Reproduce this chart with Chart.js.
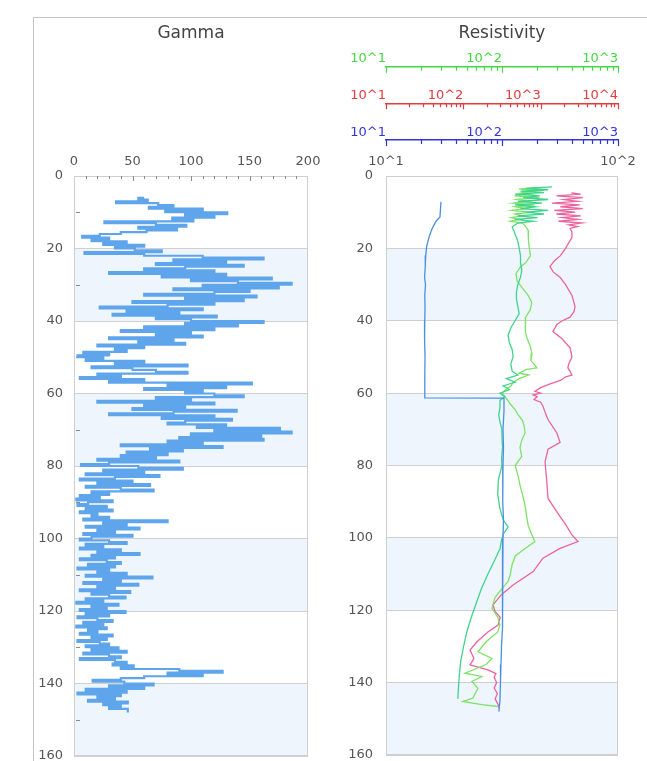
<!DOCTYPE html>
<html>
<head>
<meta charset="utf-8">
<title>Gamma / Resistivity</title>
<script src="https://cdn.jsdelivr.net/npm/chart.js@4.4.1/dist/chart.umd.min.js"></script>
<style>
  html, body { margin: 0; padding: 0; background: #fff; overflow: hidden; }
  body { width: 647px; height: 761px; position: relative; }
  #frame { position: absolute; left: 33px; top: 17px; width: 700px; height: 800px;
           border-left: 1px solid #c4c4c4; border-top: 1px solid #c4c4c4; }
  #gammaBox { position: absolute; left: 0; top: 17px; width: 330px; height: 744px; }
  #resBox { position: absolute; left: 330px; top: 17px; width: 317px; height: 744px; }
</style>
</head>
<body>
<div id="frame"></div>
<div id="gammaBox"><canvas id="gamma"></canvas></div>
<div id="resBox"><canvas id="res"></canvas></div>
<script>
// gamma log, sampled every half foot from 6 ft down to 148 ft
const gammaTop = 6;
const gammaStep = 0.5;
const gammaValues = [
  60, 55, 63, 36, 72, 85, 64, 110, 78, 131,
  95, 120, 84, 102, 26, 70, 96, 55, 88, 62,
  40, 22, 7, 30, 15, 45, 25, 60, 35, 52,
  75, 9, 60, 110, 162, 85, 130, 70, 145, 95,
  60, 120, 30, 130, 75, 169, 100, 140, 186, 110,
  175, 85, 150, 120, 60, 156, 95, 145, 50, 120,
  80, 22, 110, 45, 90, 33, 122, 70, 100, 162,
  95, 140, 60, 120, 40, 100, 70, 110, 30, 85,
  55, 95, 20, 60, 35, 45, 8, 30, 3, 25,
  10, 60, 35, 97, 15, 50, 70, 97, 20, 40,
  5, 60, 30, 152, 80, 130, 60, 110, 95, 120,
  145, 70, 100, 20, 120, 60, 95, 50, 139, 85,
  30, 120, 75, 135, 95, 80, 130, 105, 176, 120,
  186, 100, 160, 90, 162, 80, 110, 40, 127, 65,
  93, 45, 80, 40, 70, 20, 90, 30, 6, 55,
  93, 25, 60, 10, 73, 35, 5, 50, 20, 65,
  10, 40, 68, 15, 30, 5, 22, 2, 33, 12,
  3, 28, 10, 33, 5, 20, 15, 30, 8, 80,
  25, 45, 10, 56, 20, 35, 8, 50, 15, 5,
  30, 45, 10, 25, 5, 40, 20, 56, 15, 35,
  5, 28, 40, 12, 35, 3, 30, 20, 45, 10,
  67, 25, 40, 8, 55, 20, 35, 5, 48, 15,
  30, 44, 10, 25, 2, 38, 15, 28, 5, 44,
  10, 30, 3, 20, 33, 8, 25, 2, 28, 12,
  20, 5, 33, 15, 28, 3, 22, 30, 10, 38,
  15, 45, 8, 30, 40, 5, 35, 45, 33, 51,
  40, 90, 127, 80, 110, 60, 40, 16, 43, 68,
  30, 60, 10, 45, 3, 40, 20, 35, 12, 46,
  25, 40, 30, 46, 46
];

// resistivity curves (depth in ft, value in ohm.m)
const tealDepth = [3, 3.4, 3.8, 4.2, 4.6, 5, 5.5, 6, 6.5, 7, 7.5, 8, 8.5, 9, 9.5, 10,
  10.5, 11, 11.5, 12, 12.5, 13, 14, 15, 16, 17, 18, 20, 22, 24, 26, 28, 30, 32, 34, 36, 38, 40,
  42, 44, 46, 48, 50, 52, 54, 55, 56, 57, 58, 59, 60, 61, 62, 64, 66, 68, 70, 72,
  75, 78, 80, 84, 88, 92, 95, 97, 99, 101, 103, 106, 110, 114, 118, 122, 126, 130, 134, 138, 142, 144.5];
const tealRes = [52, 40, 50, 38, 48, 36, 46, 39, 50, 37, 47, 36, 44, 38, 50, 40,
  48, 37, 45, 36, 43, 37, 35, 35.5, 36, 36.5, 37, 37.5, 38, 38, 38.5, 38, 37, 36.5, 36.5, 37, 37.5, 36,
  34.5, 33.6, 34, 35, 35.3, 34.5, 35, 37, 33, 36, 32, 34, 31, 32.5, 31, 31, 30.6, 31, 31.6, 31.6,
  31.8, 31.5, 31.6, 30.5, 30.3, 31, 32, 33.6, 32, 31.4, 31, 29.5, 27.5, 25.8, 24.5, 23.3, 22.3, 21.6, 21, 20.7, 20.5, 20.4];

const greenDepth = [3.2, 3.6, 4, 4.5, 5, 5.5, 6, 6.5, 7, 7.5, 8, 8.5, 9, 9.5, 10, 10.5, 11, 11.5, 12, 12.5, 13,
  14, 15, 16, 18, 20, 22, 24, 25, 27, 29, 31, 33, 35, 37, 39, 41, 43, 45, 47, 49,
  51, 53, 53.5, 54.5, 55, 56, 57, 58, 59, 60, 61, 62, 63, 64.5, 66, 67.5, 69, 71, 73, 75,
  77.5, 80, 83, 85.5, 88, 91, 94, 96.5, 99, 101, 103.5, 105, 107.5, 110, 112, 114, 116.5, 119.5, 122, 124,
  126, 128.7, 131.5, 133.3, 135, 137.4, 138.3, 139.7, 141.6, 144.3, 145.2, 146.1, 146.6];
const greenRes = [200, 140, 230, 150, 180, 128, 210, 135, 170, 125, 190, 130, 160, 122, 175, 130, 150, 120, 140, 118, 150,
  160, 168, 168, 170, 172, 176, 160, 145, 132, 135, 150, 168, 181, 175, 160, 158, 160, 165, 175, 181,
  178, 200, 160, 140, 170, 140, 125, 120, 108, 100, 106, 112, 118, 129, 138, 150, 155, 158, 148, 143,
  148, 130, 138, 143, 150, 158, 163, 168, 180, 192, 150, 130, 122, 118, 113, 100, 87, 82, 92, 96,
  92, 73, 62, 82, 73, 48, 67, 55, 62, 56, 46, 67, 92];

const pinkDepth = [4.7, 5, 5.5, 6, 6.5, 7, 7.5, 8, 8.5, 9, 9.5, 10, 10.5, 11, 11.5, 12, 12.5, 13, 13.5, 14, 14.5,
  15.5, 17, 18.5, 20, 22, 23.5, 25, 26.5, 28, 30, 33, 36, 37.5, 39, 40, 41, 43, 45, 47.5, 50,
  52, 53, 54, 55, 55.5, 56.5, 57.5, 58.5, 59.5, 60, 60.5, 61, 61.8, 62.5, 63.6, 65.5, 67.3, 69, 71, 73.6,
  75.5, 79, 84.5, 89.1, 92.8, 96.5, 99.2, 101, 102.9, 105.6, 109.3, 113, 115.7, 118.5, 120.3, 122, 124.1, 126, 128.7, 131,
  133.3, 134.2, 135.1, 136.5, 137.5, 138.5, 140, 141.5, 143, 144.5, 146, 147];
const pinkRes = [2500, 3300, 1600, 3500, 2000, 3000, 1400, 3200, 1800, 3500, 1500, 2800, 1600, 3300, 1900, 3000, 1700, 3400, 2300, 3000, 2400,
  2540, 2540, 2300, 2100, 1800, 1500, 1320, 1450, 1780, 2100, 2540, 2780, 2700, 2400, 1900, 1620, 1440, 1890, 2400, 2540,
  2300, 2250, 2400, 2540, 2100, 1800, 1300, 1000, 845, 1000, 800, 900, 820, 1000, 1070, 1150, 1245, 1400, 1620, 1780,
  1245, 1140, 1200, 1245, 1620, 2130, 2540, 3040, 1780, 1070, 800, 440, 310, 242, 257, 300, 281, 208, 150, 122,
  137, 130, 122, 208, 264, 250, 270, 250, 275, 258, 281, 290];

const blueDepth = [7.1, 9, 11.3, 12.5, 13.5, 14.5, 16.7, 19.5, 22, 25, 28, 30, 33, 36, 40, 45, 50, 55, 61.3, 61.4,
  65, 70, 75, 80, 85, 90, 95, 100, 105, 110, 115, 120, 125, 130, 135, 140, 145, 148];
const blueRes = [29.8, 29.5, 29.2, 27, 26, 25, 23.6, 22.4, 22, 21.8, 21.5, 21.9, 21.6, 21.7, 21.6, 21.5, 21.7, 21.6, 21.6, 104,
  104, 102, 103, 102, 101, 102, 103, 102, 101, 101, 101, 102, 100, 99, 98, 97, 96, 94];

// axis ticks
const mainTicks = [10, 100];
const greenTicks = [10, 100, 1000];
const redTicks = [10, 100, 1000, 10000];
const blueTicks = [10, 100, 1000];
const depthMinorTicks = [10, 30, 50, 70, 90, 110, 130, 150];
const gammaMinorTicks = [10, 20, 30, 40, 50, 60, 70, 80, 90, 100, 110, 120, 130, 140, 150, 160, 170, 180, 190];
const bandRanges = [[20, 40], [60, 80], [100, 120], [140, 160]];

const bandColor = "#eef5fd";
const gridColor = "#cfcfcf";
const axisGreen = "#44d844";
const axisRed = "#e53a3e";
const axisBlue = "#3434dc";

Chart.defaults.font.family = '"DejaVu Sans", sans-serif';
Chart.defaults.font.size = 13;
Chart.defaults.color = "#555";
Chart.defaults.animation = false;

const toPoints = (xs, ys) => xs.map((x, i) => ({ x: ys[i], y: x }));
const gammaPoints = gammaValues.map((g, i) => ({ x: g, y: gammaTop + i * gammaStep }));

const wellDecor = {
  id: "wellDecor",
  beforeDraw(chart) {
    const { ctx, chartArea: a } = chart;
    const y = chart.scales.y;
    ctx.save();
    ctx.fillStyle = bandColor;
    bandRanges.forEach(([t, b]) => {
      const y1 = y.getPixelForValue(t);
      const y2 = y.getPixelForValue(b);
      ctx.fillRect(a.left, y1, a.right - a.left, y2 - y1);
    });
    ctx.restore();
  },
  beforeDatasetsDraw(chart, args, opts) {
    const { ctx, chartArea: a } = chart;
    ctx.save();
    ctx.strokeStyle = gridColor;
    ctx.lineWidth = 1;
    ctx.strokeRect(Math.round(a.left) + 0.5, Math.round(a.top) + 0.5,
      Math.round(a.right - a.left) - 1, Math.round(a.bottom - a.top) - 1);
    ctx.strokeStyle = "#8a8a8a";
    ctx.beginPath();
    if (opts.depthMinor) {
      const y = chart.scales.y;
      opts.depthMinor.forEach(d => {
        const p = Math.round(y.getPixelForValue(d)) + 0.5;
        ctx.moveTo(a.left + 2, p);
        ctx.lineTo(a.left + 6, p);
      });
    }
    if (opts.topMinor) {
      const x = chart.scales.x;
      opts.topMinor.forEach(v => {
        const p = Math.round(x.getPixelForValue(v)) + 0.5;
        ctx.moveTo(p, a.top);
        ctx.lineTo(p, a.top + (v % 50 === 0 ? 5 : 3));
      });
    }
    ctx.stroke();
    ctx.restore();
  },
  afterDraw(chart, args, opts) {
    const { ctx, chartArea: a } = chart;
    // track title, centred over the plot area
    ctx.save();
    ctx.fillStyle = "#444";
    ctx.font = '17px "DejaVu Sans", sans-serif';
    ctx.textAlign = "center";
    ctx.textBaseline = "middle";
    ctx.fillText(opts.title, (a.left + a.right) / 2, 16.5);
    ctx.restore();

    (opts.logAxes || []).forEach(({ id, color }) => {
      const s = chart.scales[id];
      ctx.save();
      ctx.strokeStyle = color;
      ctx.lineWidth = 1.2;
      ctx.beginPath();
      for (let e = Math.round(Math.log10(s.min)); Math.pow(10, e) <= s.max * 1.0001; e++) {
        for (let m = 1; m <= 9; m++) {
          const v = m * Math.pow(10, e);
          if (v > s.max * 1.0001) break;
          const p = Math.round(s.getPixelForValue(v)) + 0.5;
          ctx.moveTo(p, s.bottom);
          ctx.lineTo(p, s.bottom + (m === 1 ? 6 : 4));
        }
      }
      ctx.stroke();
      ctx.restore();
    });
  }
};

function depthScale(width, pad) {
  return {
    type: "linear",
    reverse: true,
    min: 0,
    max: 160,
    ticks: { stepSize: 20, padding: pad },
    grid: { color: gridColor, drawTicks: false },
    border: { display: false },
    afterFit: s => { s.width = width; s.paddingTop = 0; s.paddingBottom = 0; }
  };
}

function topScale(type, min, max, height, ticks, color, pad, align, weight) {
  return {
    type: type,
    position: "top",
    min: min,
    max: max,
    weight: weight,
    afterBuildTicks: ticks ? s => { s.ticks = ticks.map(v => ({ value: v })); } : undefined,
    ticks: {
      color: color,
      padding: pad,
      align: align,
      autoSkip: false,
      maxRotation: 0,
      minRotation: 0,
      stepSize: type === "linear" ? 50 : undefined,
      callback: type === "linear" ? undefined : v => "10^" + Math.round(Math.log10(v))
    },
    grid: { display: false, drawTicks: false },
    border: color === "#555" ? { display: false } : { display: true, color: color, width: 1.5 },
    afterFit: s => { s.height = height; s.paddingLeft = 0; s.paddingRight = 0; }
  };
}

new Chart(document.getElementById("gamma"), {
  type: "scatter",
  data: {
    datasets: [{
      data: gammaPoints,
      showLine: true,
      stepped: true,
      borderColor: "#5ea5ec",
      borderWidth: 2.2,
      pointRadius: 0
    }]
  },
  options: {
    responsive: true,
    maintainAspectRatio: false,
    events: [],
    layout: { padding: { left: 0, right: 22, top: 26.4, bottom: 5 } },
    scales: {
      x: topScale("linear", 0, 200, 132.6, null, "#555", 7, "center", 1),
      y: depthScale(74, 11)
    },
    plugins: {
      legend: { display: false },
      tooltip: { enabled: false },
      wellDecor: { title: "Gamma", depthMinor: depthMinorTicks, topMinor: gammaMinorTicks }
    }
  },
  plugins: [wellDecor]
});

const resLine = (points, axis, color) => ({
  data: points,
  xAxisID: axis,
  showLine: true,
  borderColor: color,
  borderWidth: 1.3,
  pointRadius: 0,
  tension: 0
});

new Chart(document.getElementById("res"), {
  type: "scatter",
  data: {
    datasets: [
      resLine(toPoints(blueDepth, blueRes), "xBlue", "#4a8fe2"),
      resLine(toPoints(tealDepth, tealRes), "xMain", "#3fd48c"),
      resLine(toPoints(greenDepth, greenRes), "xGreen", "#7ce466"),
      resLine(toPoints(pinkDepth, pinkRes), "xRed", "#ec639e")
    ]
  },
  options: {
    responsive: true,
    maintainAspectRatio: false,
    events: [],
    layout: { padding: { left: 0, right: 29, top: 26.4, bottom: 6 } },
    scales: {
      xMain: topScale("logarithmic", 10, 100, 36, mainTicks, "#555", 7, "center", 1),
      xBlue: topScale("logarithmic", 10, 1000, 36.7, blueTicks, axisBlue, 0, "end", 2),
      xRed: topScale("logarithmic", 10, 10000, 36.6, redTicks, axisRed, 0, "end", 3),
      xGreen: topScale("logarithmic", 10, 1000, 23.3, greenTicks, axisGreen, 0, "end", 4),
      y: depthScale(56, 13)
    },
    plugins: {
      legend: { display: false },
      tooltip: { enabled: false },
      wellDecor: {
        title: "Resistivity",
        logAxes: [
          { id: "xGreen", color: axisGreen },
          { id: "xRed", color: axisRed },
          { id: "xBlue", color: axisBlue }
        ]
      }
    }
  },
  plugins: [wellDecor]
});
</script>
</body>
</html>
